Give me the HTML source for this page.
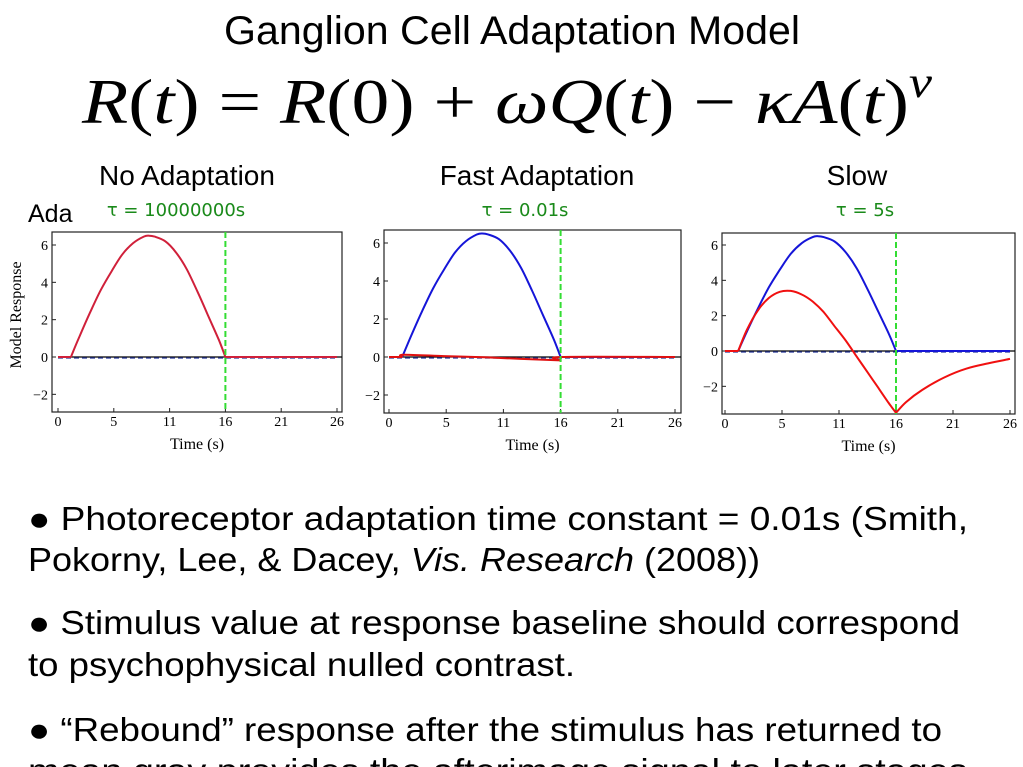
<!DOCTYPE html>
<html><head><meta charset="utf-8"><style>
body{margin:0;background:#fff;overflow:hidden;}
svg{display:block;}
</style></head><body>
<svg width="1023" height="767" viewBox="0 0 1023 767" xmlns="http://www.w3.org/2000/svg">
<text x="224" y="44" font-family="Liberation Sans, sans-serif" font-size="40" textLength="576" lengthAdjust="spacingAndGlyphs">Ganglion Cell Adaptation Model</text>
<text x="82" y="123" font-family="Liberation Serif, serif" font-size="64" textLength="850" lengthAdjust="spacingAndGlyphs"><tspan font-style="italic">R</tspan>(<tspan font-style="italic">t</tspan>) = <tspan font-style="italic">R</tspan>(0) + <tspan font-style="italic">ωQ</tspan>(<tspan font-style="italic">t</tspan>) − <tspan font-style="italic">κA</tspan>(<tspan font-style="italic">t</tspan>)<tspan font-style="italic" font-size="44" dy="-26">ν</tspan></text>
<text x="187" y="185" text-anchor="middle" font-family="Liberation Sans, sans-serif" font-size="28">No Adaptation</text>
<text x="537" y="185" text-anchor="middle" font-family="Liberation Sans, sans-serif" font-size="28">Fast Adaptation</text>
<text x="857" y="185" text-anchor="middle" font-family="Liberation Sans, sans-serif" font-size="28">Slow</text>
<text x="28" y="222" font-family="Liberation Sans, sans-serif" font-size="25">Ada</text>
<text x="176" y="216" text-anchor="middle" fill="#1a8a1a" font-family="DejaVu Sans, sans-serif" font-size="18">τ = 10000000s</text>
<text x="525" y="216" text-anchor="middle" fill="#1a8a1a" font-family="DejaVu Sans, sans-serif" font-size="18">τ = 0.01s</text>
<text x="865" y="216" text-anchor="middle" fill="#1a8a1a" font-family="DejaVu Sans, sans-serif" font-size="18">τ = 5s</text>
<text transform="translate(21,315) rotate(-90)" text-anchor="middle" font-family="Liberation Serif, serif" font-size="16">Model Response</text>
<g id="charts"></g>
<g font-family="Liberation Sans, sans-serif" font-size="33">
<text x="28" y="530" textLength="940" lengthAdjust="spacingAndGlyphs">●  Photoreceptor adaptation time constant = 0.01s (Smith,</text>
<text x="28" y="571" textLength="732" lengthAdjust="spacingAndGlyphs">Pokorny, Lee, &amp; Dacey, <tspan font-style="italic">Vis. Research</tspan> (2008))</text>
<text x="28" y="634" textLength="932" lengthAdjust="spacingAndGlyphs">●  Stimulus value at response baseline should correspond</text>
<text x="28" y="676" textLength="547" lengthAdjust="spacingAndGlyphs">to  psychophysical nulled contrast.</text>
<text x="28" y="741" textLength="914" lengthAdjust="spacingAndGlyphs">●  “Rebound” response after the stimulus has returned to</text>
<text x="28" y="782" textLength="950" lengthAdjust="spacingAndGlyphs">mean gray provides the afterimage signal to later stages.</text>
</g>
</svg>
<script>
const tickVals = [0, 5.2, 10.4, 15.6, 20.8, 26];
const tickLabels = ["0", "5", "11", "16", "21", "26"];
const yTicks = [-2, 0, 2, 4, 6];
const stimOff = 15.6;
const blueT = [0, 1.2, 2, 3, 4, 5, 6, 7, 8, 8.5, 9, 10, 11, 12, 13, 14, 15, 15.6, 20, 26];
const blueV = [0, 0, 1.1, 2.4, 3.6, 4.6, 5.5, 6.1, 6.45, 6.5, 6.45, 6.2, 5.6, 4.7, 3.5, 2.2, 0.9, 0, 0, 0];
const fastRedT = [0, 1.2, 1.3, 5, 9, 12, 15.6, 15.7, 26];
const fastRedV = [0, 0, 0.12, 0.05, -0.02, -0.1, -0.18, 0, 0];
const slowRedT = [0, 1.2, 2, 3, 4, 5, 6, 7, 8, 9, 10, 11, 12, 13, 14, 15, 15.6, 16.5, 18, 20, 22, 24, 26];
const slowRedV = [0, 0, 1.2, 2.3, 3.0, 3.35, 3.4, 3.2, 2.8, 2.2, 1.4, 0.6, -0.3, -1.2, -2.1, -3.0, -3.5, -2.9, -2.2, -1.5, -1.0, -0.7, -0.45];

const NS = "http://www.w3.org/2000/svg";
const root = document.getElementById('charts');
function mk(tag, attrs, parent) {
  const e = document.createElementNS(NS, tag);
  for (const k in attrs) e.setAttribute(k, attrs[k]);
  parent.appendChild(e);
  return e;
}
const panels = [
  {name: 'no-adaptation', fx0: 52, fx1: 342, fy0: 232, fy1: 412, x0: 58, x1: 337, y0px: 357, y6px: 245, red: [blueT, blueV], redColor: '#d0203a', blue: false},
  {name: 'fast-adaptation', fx0: 384, fx1: 681, fy0: 230, fy1: 413, x0: 389, x1: 675, y0px: 357, y6px: 243, red: [fastRedT, fastRedV], redColor: '#e01010', blue: true},
  {name: 'slow-adaptation', fx0: 722, fx1: 1015, fy0: 233, fy1: 414, x0: 725, x1: 1010, y0px: 351, y6px: 245, red: [slowRedT, slowRedV], redColor: '#f01010', blue: true}
];
// smooth path (Catmull-Rom) through points
function smoothPath(P) {
  let d = 'M' + P[0][0].toFixed(1) + ',' + P[0][1].toFixed(1);
  for (let i = 0; i < P.length - 1; i++) {
    const p0 = P[Math.max(0, i - 1)], p1 = P[i], p2 = P[i + 1], p3 = P[Math.min(P.length - 1, i + 2)];
    const c1 = [p1[0] + (p2[0] - p0[0]) / 6, p1[1] + (p2[1] - p0[1]) / 6];
    const c2 = [p2[0] - (p3[0] - p1[0]) / 6, p2[1] - (p3[1] - p1[1]) / 6];
    d += ' C' + c1.map(v => v.toFixed(1)).join(',') + ' ' + c2.map(v => v.toFixed(1)).join(',') + ' ' + p2[0].toFixed(1) + ',' + p2[1].toFixed(1);
  }
  return d;
}
panels.forEach(p => {
  const g = mk('g', {}, root);
  
  
  const sx = v => p.x0 + (v / 26) * (p.x1 - p.x0);
  const sy = v => p.y0px - v * (p.y0px - p.y6px) / 6;
  const frame = mk('rect', {x: p.fx0, y: p.fy0, width: p.fx1 - p.fx0, height: p.fy1 - p.fy0, fill: 'none', stroke: '#222', 'stroke-width': 1.2}, g);
  
  
  tickVals.forEach((t, i) => {
    const x = sx(t);
    mk('line', {x1: x, x2: x, y1: p.fy1, y2: p.fy1 - 4, stroke: '#222'}, g);
    const tl = mk('text', {x: x, y: p.fy1 + 14, 'text-anchor': 'middle', 'font-family': 'Liberation Serif, serif', 'font-size': 14}, g);
    tl.textContent = tickLabels[i];
    
    
  });
  yTicks.forEach(v => {
    const y = sy(v);
    mk('line', {x1: p.fx0, x2: p.fx0 + 4, y1: y, y2: y, stroke: '#222'}, g);
    const tl = mk('text', {x: p.fx0 - 4, y: y + 5, 'text-anchor': 'end', 'font-family': 'Liberation Serif, serif', 'font-size': 14}, g);
    tl.textContent = v < 0 ? '−' + (-v) : String(v);
    
    
  });
  const xt = mk('text', {x: (p.fx0 + p.fx1) / 2, y: p.fy1 + 37, 'text-anchor': 'middle', 'font-family': 'Liberation Serif, serif', 'font-size': 16}, g);
  xt.textContent = 'Time (s)';
  
  
  const base = mk('line', {x1: sx(0), x2: p.fx1, y1: sy(0), y2: sy(0), stroke: '#000', 'stroke-width': 1.2}, g);
  
  
  const dash = mk('line', {x1: sx(0), x2: sx(26), y1: sy(0) + 1, y2: sy(0) + 1, stroke: '#2a3a9a', 'stroke-width': 1.2, 'stroke-dasharray': '5,3'}, g);
  
  
  const line = (T, V, color, name) => {
    // split into segments at the kinks (onset and offset) so corners stay sharp
    const pts = T.map((t, i) => [sx(t), sy(V[i])]);
    const breaks = [0];
    T.forEach((t, i) => { if (i > 0 && i < T.length - 1 && (Math.abs(t - 1.2) < 1e-6 || Math.abs(t - stimOff) < 1e-6)) breaks.push(i); });
    breaks.push(T.length - 1);
    for (let b = 0; b < breaks.length - 1; b++) {
      const seg = pts.slice(breaks[b], breaks[b + 1] + 1);
      const path = mk('path', {d: smoothPath(seg), fill: 'none', stroke: color, 'stroke-width': 2, 'stroke-linejoin': 'round'}, g);
      
      
    }
  };
  if (p.blue) line(blueT, blueV, '#1515d8', 'stimulus-response-line');
  line(p.red[0], p.red[1], p.redColor, 'adapted-response-line');
  const gx = sx(stimOff);
  const gl = mk('line', {x1: gx, x2: gx, y1: p.fy0, y2: p.fy1, stroke: '#33dd33', 'stroke-width': 2, 'stroke-dasharray': '6,3'}, g);
  
  
});
</script>
</body></html>
